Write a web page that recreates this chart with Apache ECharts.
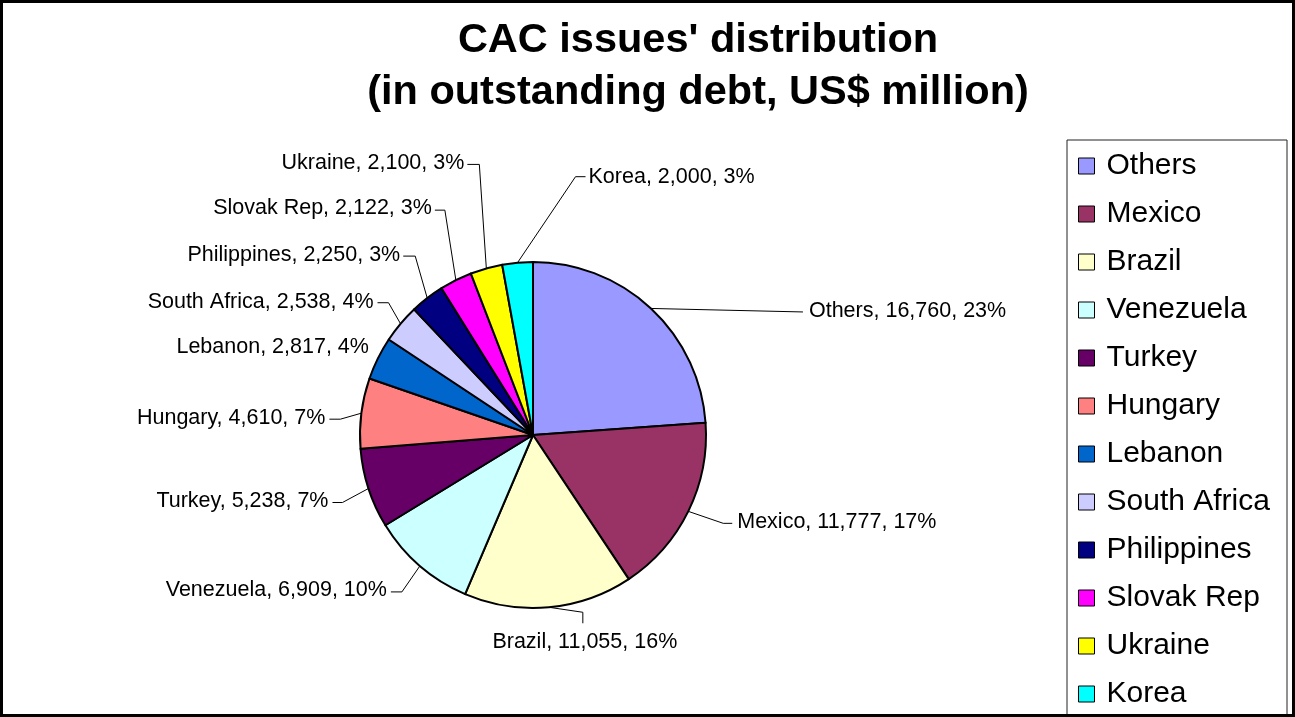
<!DOCTYPE html>
<html>
<head>
<meta charset="utf-8">
<script src="https://cdn.jsdelivr.net/npm/echarts@6/dist/echarts.min.js"></script>
<style>
html,body{margin:0;padding:0;background:#fff;}
#chart{width:1295px;height:717px;}
</style>
</head>
<body>
<div id="chart"></div>
<script>
// ---- data ----
const countries = ['Others','Mexico','Brazil','Venezuela','Turkey','Hungary','Lebanon','South Africa','Philippines','Slovak Rep','Ukraine','Korea'];
const debt = [16760, 11777, 11055, 6909, 5238, 4610, 2817, 2538, 2250, 2122, 2100, 2000];
const shareLabels = ['23%','17%','16%','10%','7%','7%','4%','4%','3%','3%','3%','3%'];
const titleLines = ["CAC issues' distribution", "(in outstanding debt, US$ million)"];

// ---- styles ----
const colors = ['#9999FF','#993366','#FFFFCC','#CCFFFF','#660066','#FF8080','#0066CC','#CCCCFF','#000080','#FF00FF','#FFFF00','#00FFFF'];
const FONT = "'Liberation Sans', Arial, sans-serif";

// label leader geometry, relative to the slice's edge point
const labelGeom = [
  {line:[[152,3.5]], text:[158,3], align:'left'},
  {line:[[35,12],[44,12]], text:[49,11], align:'left'},
  {line:[[34,5],[34,16]], text:[36,35], align:'center'},
  {line:[[-18,26],[-29,26]], text:[-33,24], align:'right'},
  {line:[[-26,14],[-36,14]], text:[-40,13], align:'right'},
  {line:[[-21,6],[-32,6]], text:[-36,5], align:'right'},
  {line:[[0,0]], text:[-9,-11], align:'right'},
  {line:[[-12,-21],[-23,-21]], text:[-27,-22], align:'right'},
  {line:[[-12,-42],[-24,-42]], text:[-27,-43], align:'right'},
  {line:[[-11,-70],[-21,-70]], text:[-24,-72], align:'right'},
  {line:[[-7,-104],[-19,-104]], text:[-22,-105], align:'right'},
  {line:[[58,-86],[68,-86]], text:[71,-86], align:'left'}
];

const chart = echarts.init(document.getElementById('chart'), null, {renderer:'canvas'});

const option = {
  backgroundColor: '#ffffff',
  animation: false,
  color: colors,
  title: {
    text: titleLines.join('\n'),
    left: 693,
    top: 10,
    textAlign: 'center',
    textStyle: {fontFamily: FONT, fontSize: 41.5, fontWeight: 'bold', color: '#000', lineHeight: 52}
  },
  legend: {
    orient: 'vertical',
    left: 1078,
    top: 151,
    padding: 0,
    itemWidth: 16,
    itemHeight: 16,
    itemGap: 18,
    icon: 'rect',
    itemStyle: {borderColor: '#000', borderWidth: 1},
    textStyle: {fontFamily: FONT, fontSize: 30, color: '#000', lineHeight: 30, padding: [0,0,0,7]},
    data: countries
  },
  graphic: [
    {type:'rect', shape:{x:1067, y:140, width:220, height:600}, style:{fill:null, stroke:'#222', lineWidth:1}, z:-1},
    {type:'rect', shape:{x:1.5, y:1.5, width:1292, height:714}, style:{fill:null, stroke:'#000', lineWidth:3}, z:-1}
  ],
  series: [{
    type: 'pie',
    center: [533, 435],
    radius: 173,
    startAngle: 90,
    clockwise: true,
    avoidLabelOverlap: false,
    itemStyle: {borderColor: '#000', borderWidth: 2},
    emphasis: {disabled: true},
    label: {
      show: true,
      position: 'outside',
      fontFamily: FONT,
      fontSize: 21.5,
      color: '#000',
      formatter: p => p.name + ', ' + echarts.format.addCommas(p.value) + ', ' + shareLabels[p.dataIndex]
    },
    labelLine: {show: true, length: 10, length2: 10, lineStyle: {color: '#000', width: 1}},
    labelLayout: function (params) {
      const g = labelGeom[params.dataIndex];
      const pts = params.labelLinePoints;
      if (!pts || !g) return {};
      const e = pts[0];
      const linePts = [[e[0], e[1]]].concat(g.line.map(d => [e[0] + d[0], e[1] + d[1]]));
      return {
        x: e[0] + g.text[0],
        y: e[1] + g.text[1],
        align: g.align,
        verticalAlign: 'middle',
        labelLinePoints: linePts
      };
    },
    data: countries.map((n, i) => ({name: n, value: debt[i]}))
  }]
};
chart.setOption(option);
</script>
</body>
</html>
